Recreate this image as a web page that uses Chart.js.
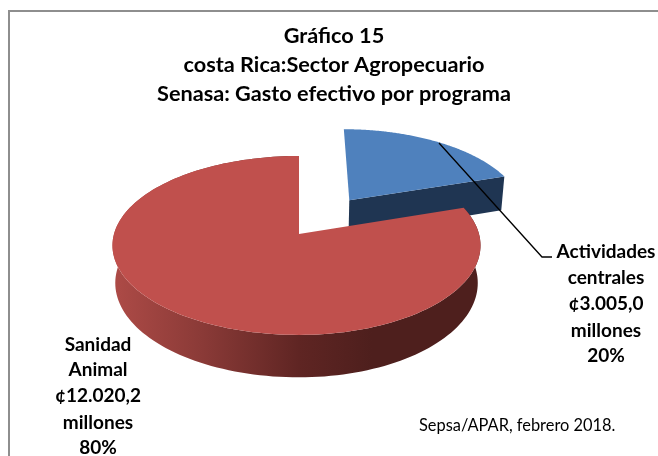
<!DOCTYPE html>
<html><head><meta charset="utf-8">
<script src="https://cdn.jsdelivr.net/npm/chart.js@4"></script>
<style>html,body{margin:0;padding:0;background:#fff}#w{width:658px;height:456px}</style>
</head><body><div id="w"><canvas id="c" width="658" height="456"></canvas></div>
<script>
const categories = ['Actividades centrales', 'Sanidad Animal'];
const values = [3005.0, 12020.2];
const colors = ['#4F81BD', '#C0504D'];
const sideColors = ['#1F3552', null];
const explode = [0.5, 0];
const titleLines = ['Gráfico 15', 'costa Rica:Sector Agropecuario', 'Senasa: Gasto efectivo por programa'];
const labelLines = [
  ['Actividades', 'centrales', '¢3.005,0', 'millones', '20%'],
  ['Sanidad', 'Animal', '¢12.020,2', 'millones', '80%']
];
const sourceNote = 'Sepsa/APAR, febrero 2018.';

// projection of the pie plane on to the page
const view = {cx: 299, cy: 234, rl: 185, rr: 180, ry: 88, k: 0.128, depth: 37, shrink: 0.985};
function project(u, v, low) {
  const w = 1 - view.k * v;
  const r = u < 0 ? view.rl : view.rr;
  let x = r * u / w, y = view.ry * v / w;
  if (low) { x *= view.shrink; y += view.depth / w; }
  return [view.cx + x, view.cy + y];
}
function arcPts(a0, a1, ox, oy, low) {
  const pts = [], n = 160;
  for (let i = 0; i <= n; i++) {
    const t = a0 + (a1 - a0) * i / n;
    pts.push(project(ox + Math.cos(t), oy + Math.sin(t), low));
  }
  return pts;
}
function trace(ctx, pts, start) {
  pts.forEach((p, i) => (i === 0 && start) ? ctx.moveTo(p[0], p[1]) : ctx.lineTo(p[0], p[1]));
}
const pie3d = {
  id: 'pie3d',
  beforeDatasetDraw(chart) {
    const ctx = chart.ctx;
    const arcs = chart.getDatasetMeta(0).data;
    arcs.forEach((el, i) => {
      const {startAngle: a0, endAngle: a1} = el.getProps(['startAngle', 'endAngle'], true);
      const mid = (a0 + a1) / 2;
      const ox = Math.cos(mid) * explode[i], oy = Math.sin(mid) * explode[i];
      const top = arcPts(a0, a1, ox, oy, false);
      if (sideColors[i]) {
        // cut face toward the viewer
        const v0 = project(ox, oy, false), v1 = project(ox, oy, true);
        const e = top[top.length - 1], e2 = project(ox + Math.cos(a1), oy + Math.sin(a1), true);
        ctx.beginPath();
        ctx.moveTo(v0[0], v0[1]); ctx.lineTo(e[0], e[1]); ctx.lineTo(e2[0], e2[1]); ctx.lineTo(v1[0], v1[1]);
        ctx.closePath();
        ctx.fillStyle = sideColors[i];
        ctx.fill();
      } else {
        const low = arcPts(a0, a1, ox, oy, true).reverse();
        ctx.beginPath();
        trace(ctx, top, true); trace(ctx, low, false);
        ctx.closePath();
        const g = ctx.createLinearGradient(112, 0, 372, 0);
        g.addColorStop(0, '#AE4B47');
        g.addColorStop(0.35, '#8A3A37');
        g.addColorStop(0.72, '#5F2523');
        g.addColorStop(1, '#4E1F1D');
        ctx.fillStyle = g;
        ctx.fill();
      }
      const v = project(ox, oy, false);
      ctx.beginPath();
      ctx.moveTo(v[0], v[1]);
      trace(ctx, top, false);
      ctx.closePath();
      ctx.fillStyle = el.options.backgroundColor;
      ctx.fill();
    });
    return false;
  },
  afterDraw(chart) {
    const ctx = chart.ctx;
    ctx.save();
    // frame
    ctx.strokeStyle = '#8E8E8E';
    ctx.lineWidth = 2;
    ctx.beginPath();
    ctx.moveTo(9, 456); ctx.lineTo(9, 11); ctx.lineTo(658, 11);
    ctx.stroke();
    // leader line
    ctx.strokeStyle = '#000';
    ctx.lineWidth = 1.3;
    ctx.beginPath();
    ctx.moveTo(439, 143); ctx.lineTo(542, 257); ctx.lineTo(552, 257);
    ctx.stroke();
    // slice labels
    ctx.fillStyle = '#000';
    ctx.textAlign = 'center';
    ctx.textBaseline = 'middle';
    ctx.font = 'bold 19px Lato';
    const anchors = [[606, [252, 278, 304, 331, 356]], [98, [345, 370, 396, 423, 448]]];
    labelLines.forEach((ls, i) => ls.forEach((s, j) => ctx.fillText(s, anchors[i][0], anchors[i][1][j])));
    ctx.font = '16.4px Lato';
    ctx.textAlign = 'left';
    ctx.fillText(sourceNote, 419, 426);
    ctx.restore();
  }
};
new Chart(document.getElementById('c'), {
  type: 'pie',
  data: {labels: categories, datasets: [{data: values, backgroundColor: colors, borderWidth: 0}]},
  options: {
    responsive: false,
    animation: false,
    layout: {padding: {left: 10}},
    plugins: {
      legend: {display: false},
      tooltip: {enabled: false},
      title: {
        display: true,
        text: titleLines,
        color: '#000',
        font: {family: 'Lato', weight: 'bold', size: 21.7, lineHeight: 1.336},
        padding: {top: 22, bottom: 0}
      }
    }
  },
  plugins: [pie3d]
});
</script></body></html>
